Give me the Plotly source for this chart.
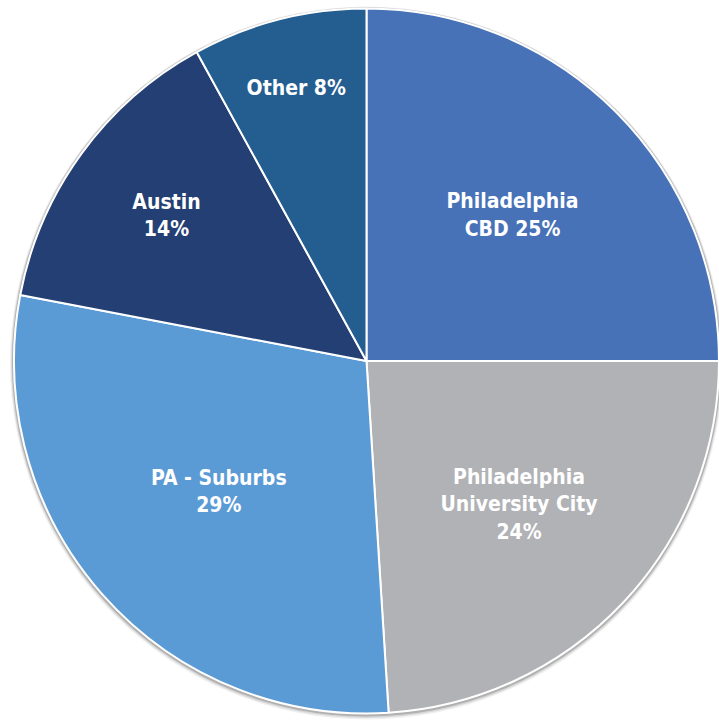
import plotly.graph_objects as go

labels = ["Philadelphia CBD", "Philadelphia University City", "PA - Suburbs", "Austin", "Other"]
values = [25, 24, 29, 14, 8]
text_labels = ["Philadelphia<br>CBD 25%", "Philadelphia<br>University City<br>24%",
               "PA - Suburbs<br>29%", "Austin<br>14%", "Other 8%"]
colors = ["#4772B8", "#B1B2B5", "#5B9BD5", "#243F73", "#245E91"]

W, H = 719, 722
# pie spans x 14..719, y 6..716 in page pixels
x_lo, x_hi, y_lo, y_hi = 14, 719, 6, 716
cx, cy = (x_lo + x_hi) / 2, (y_lo + y_hi) / 2
r = min(x_hi - x_lo, y_hi - y_lo) / 2

def px_x(v):
    return v / W

def px_y(v):
    return 1 - v / H

shapes = []
for extra, alpha, dy in [(4, 0.06, 2), (3, 0.10, 1.5), (2, 0.18, 1)]:
    shapes.append(dict(
        type="circle", xref="paper", yref="paper", layer="below",
        x0=px_x(cx - r - extra), x1=px_x(cx + r + extra),
        y0=px_y(cy + dy + r + extra), y1=px_y(cy + dy - r - extra),
        fillcolor=f"rgba(0,0,0,{alpha})", line=dict(width=0),
    ))

fig = go.Figure(go.Pie(
    labels=labels,
    values=values,
    text=text_labels,
    textinfo="text",
    textposition="inside",
    insidetextorientation="horizontal",
    sort=False,
    direction="clockwise",
    rotation=0,
    marker=dict(colors=colors, line=dict(color="white", width=2)),
    textfont=dict(family="DejaVu Sans Condensed, Liberation Sans, sans-serif", size=21,
                  color="white", weight="bold"),
    domain=dict(x=[px_x(x_lo), px_x(x_hi)], y=[px_y(y_hi), px_y(y_lo)]),
    hoverinfo="skip",
    showlegend=False,
))

fig.update_layout(
    width=W, height=H,
    margin=dict(l=0, r=0, t=0, b=0),
    paper_bgcolor="white",
    plot_bgcolor="white",
    shapes=shapes,
)

fig.write_html(
    "out.html",
    config={"displayModeBar": False},
    post_script="document.body.style.margin='0';document.body.style.overflow='hidden';",
)
